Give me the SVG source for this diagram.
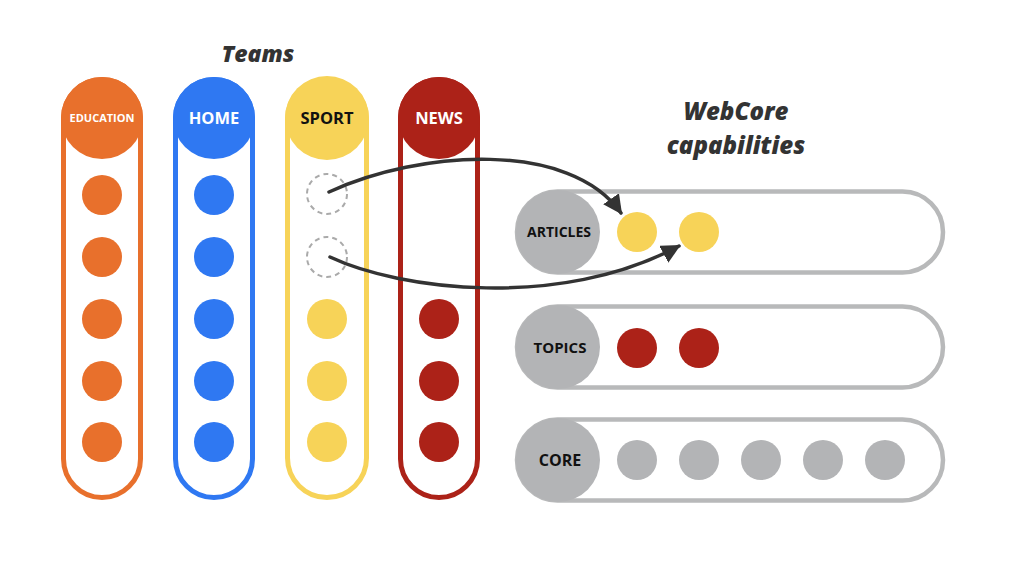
<svg xmlns="http://www.w3.org/2000/svg" width="1024" height="576" viewBox="0 0 1024 576">
<style>
.title{font-family:"Open Sans","Lato",sans-serif;font-weight:800;font-style:italic;fill:#333;text-anchor:middle}
.lbl{font-family:"Open Sans","Noto Sans",sans-serif;font-weight:700;text-anchor:middle}
.col{fill:#fff;stroke-width:5}
.row{fill:#fff;stroke:#b8b9ba;stroke-width:4.5}
.gray{fill:#b3b4b6}
.dash{fill:none;stroke:#aaa;stroke-width:2;stroke-dasharray:5 4}
.conn{fill:none;stroke:#333;stroke-width:3.5;stroke-linecap:round}
</style>
<defs>
<marker id="ah" viewBox="0 0 10 10" refX="9" refY="5" markerWidth="5.5" markerHeight="5.5" orient="auto" markerUnits="strokeWidth">
<path d="M0,0 L10,5 L0,10 z" fill="#333"/>
</marker>
</defs>
<rect width="1024" height="576" fill="#fff"/>
<text class="title" x="258" y="62" font-size="23">Teams</text>
<text class="title" x="736" y="120" font-size="24">WebCore</text>
<text class="title" x="736" y="154" font-size="24">capabilities</text>

<g id="education">
<rect class="col" x="63.5" y="79.5" width="77" height="418" rx="38.5" stroke="#e8702c"/>
<circle cx="102" cy="118" r="41" fill="#e8702c"/>
<text class="lbl" x="102" y="122" font-size="11" fill="#fff">EDUCATION</text>
<g fill="#e8702c"><circle cx="102" cy="195" r="20"/><circle cx="102" cy="257" r="20"/><circle cx="102" cy="319" r="20"/><circle cx="102" cy="381" r="20"/><circle cx="102" cy="442" r="20"/></g>
</g>
<g id="home">
<rect class="col" x="175.5" y="79.5" width="77" height="418" rx="38.5" stroke="#2f78f2"/>
<circle cx="214" cy="118" r="41" fill="#2f78f2"/>
<text class="lbl" x="214" y="124" font-size="16.5" fill="#fff">HOME</text>
<g fill="#2f78f2"><circle cx="214" cy="195" r="20"/><circle cx="214" cy="257" r="20"/><circle cx="214" cy="319" r="20"/><circle cx="214" cy="381" r="20"/><circle cx="214" cy="442" r="20"/></g>
</g>
<g id="sport">
<rect class="col" x="287.5" y="79.5" width="79" height="418" rx="39.5" stroke="#f7d358"/>
<circle cx="327" cy="118" r="42" fill="#f7d358"/>
<text class="lbl" x="327" y="124" font-size="16.5" fill="#111">SPORT</text>
<circle class="dash" cx="327" cy="194" r="20"/>
<circle class="dash" cx="327" cy="257" r="20"/>
<g fill="#f7d358"><circle cx="327" cy="319" r="20"/><circle cx="327" cy="381" r="20"/><circle cx="327" cy="442" r="20"/></g>
</g>
<g id="news">
<rect class="col" x="400.5" y="79.5" width="77" height="418" rx="38.5" stroke="#ac2218"/>
<circle cx="439" cy="118" r="41" fill="#ac2218"/>
<text class="lbl" x="439" y="124" font-size="16.5" fill="#fff">NEWS</text>
<g fill="#ac2218"><circle cx="439" cy="319" r="20"/><circle cx="439" cy="381" r="20"/><circle cx="439" cy="442" r="20"/></g>
</g>

<g id="articles">
<rect class="row" x="517" y="191.5" width="426" height="81" rx="40.5"/>
<circle class="gray" cx="558" cy="232" r="42"/>
<text class="lbl" x="559" y="237" font-size="14" fill="#111">ARTICLES</text>
<g fill="#f7d358"><circle cx="637" cy="232" r="20"/><circle cx="699" cy="232" r="20"/></g>
</g>
<g id="topics">
<rect class="row" x="517" y="306.5" width="426" height="81" rx="40.5"/>
<circle class="gray" cx="558" cy="347" r="42"/>
<text class="lbl" x="560" y="353" font-size="15" fill="#111">TOPICS</text>
<g fill="#ac2218"><circle cx="637" cy="348" r="20"/><circle cx="699" cy="348" r="20"/></g>
</g>
<g id="core">
<rect class="row" x="517" y="419.5" width="426" height="81" rx="40.5"/>
<circle class="gray" cx="558" cy="460" r="42"/>
<text class="lbl" x="560" y="466" font-size="16" fill="#111">CORE</text>
<g class="gray"><circle cx="637" cy="460" r="20"/><circle cx="699" cy="460" r="20"/><circle cx="761" cy="460" r="20"/><circle cx="823" cy="460" r="20"/><circle cx="885" cy="460" r="20"/></g>
</g>

<g id="connectors">
<path class="conn" d="M329,192 C420,150 570,140 621,213" marker-end="url(#ah)"/>
<path class="conn" d="M330,257 C400,290 560,310 679,246" marker-end="url(#ah)"/>
</g>
</svg>
